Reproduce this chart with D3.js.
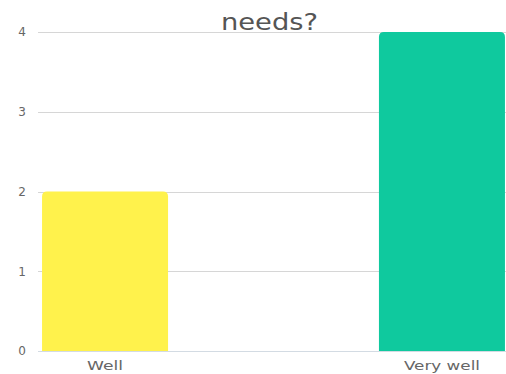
<!DOCTYPE html>
<html>
<head>
<meta charset="utf-8">
<script src="https://cdn.jsdelivr.net/npm/d3@7"></script>
<style>
  html, body { margin: 0; padding: 0; background: #fff; }
  svg { display: block; font-family: "DejaVu Sans", "Open Sans", sans-serif; }
</style>
</head>
<body>
<svg id="chart" width="506" height="374"></svg>
<script>
// Answers and how many responses each received
const categories = ["Well", "Very well"];
const counts = [2, 4];
const barColors = ["#fff24c", "#0fc99e"];
const yTicks = [0, 1, 2, 3, 4];
const titleLine = "needs?";

const W = 506, H = 374;
const margin = { top: 32, right: -3, bottom: 23, left: 38 };

const svg = d3.select("#chart");

const x = d3.scaleBand()
  .domain(categories)
  .range([margin.left, W - margin.right])
  .paddingInner(0.626)
  .paddingOuter(0.012);

const y = d3.scaleLinear()
  .domain([0, 4])
  .range([H - margin.bottom, margin.top]);

// horizontal gridlines
svg.append("g")
  .selectAll("line")
  .data(yTicks)
  .join("line")
  .attr("x1", margin.left)
  .attr("x2", W - margin.right)
  .attr("y1", d => Math.round(y(d)) + 0.5)
  .attr("y2", d => Math.round(y(d)) + 0.5)
  .attr("stroke", d => d === 0 ? "#d3dbe3" : "#d6d6d6")
  .attr("stroke-width", 1);

// y-axis tick labels
const yAxis = d3.axisLeft(y).tickValues(yTicks).tickSize(0).tickPadding(0).tickFormat(d3.format("d"));
const gy = svg.append("g")
  .attr("transform", `translate(${margin.left - 12},0)`)
  .call(yAxis);
gy.select(".domain").remove();
gy.selectAll("text")
  .attr("font-size", 12)
  .attr("fill", "#666")
  .attr("font-family", "DejaVu Sans, sans-serif");

// bars with rounded top corners
function topRoundedRect(x0, y0, w, h, r) {
  r = Math.min(r, w / 2, h);
  return `M${x0},${y0 + h}V${y0 + r}Q${x0},${y0} ${x0 + r},${y0}` +
         `H${x0 + w - r}Q${x0 + w},${y0} ${x0 + w},${y0 + r}V${y0 + h}Z`;
}

svg.append("g")
  .selectAll("path")
  .data(categories.map((c, i) => ({ c, v: counts[i], color: barColors[i] })))
  .join("path")
  .attr("d", d => topRoundedRect(x(d.c), y(d.v), x.bandwidth(), y(0) - y(d.v), 5))
  .attr("fill", d => d.color);

// x-axis category labels
const xLabelWidths = { "Well": 36, "Very well": 76 };
svg.append("g")
  .selectAll("text")
  .data(categories)
  .join("text")
  .attr("x", d => x(d) + x.bandwidth() / 2 - xLabelWidths[d] / 2)
  .attr("y", H - 4)
  .attr("font-size", 12)
  .attr("fill", "#666")
  .attr("textLength", d => xLabelWidths[d])
  .attr("lengthAdjust", "spacingAndGlyphs")
  .text(d => d);

// title (last line of the wrapped heading)
svg.append("text")
  .attr("x", 221)
  .attr("y", 30)
  .attr("font-size", 23)
  .attr("fill", "#555")
  .attr("textLength", 97)
  .attr("lengthAdjust", "spacingAndGlyphs")
  .text(titleLine);
</script>
</body>
</html>
